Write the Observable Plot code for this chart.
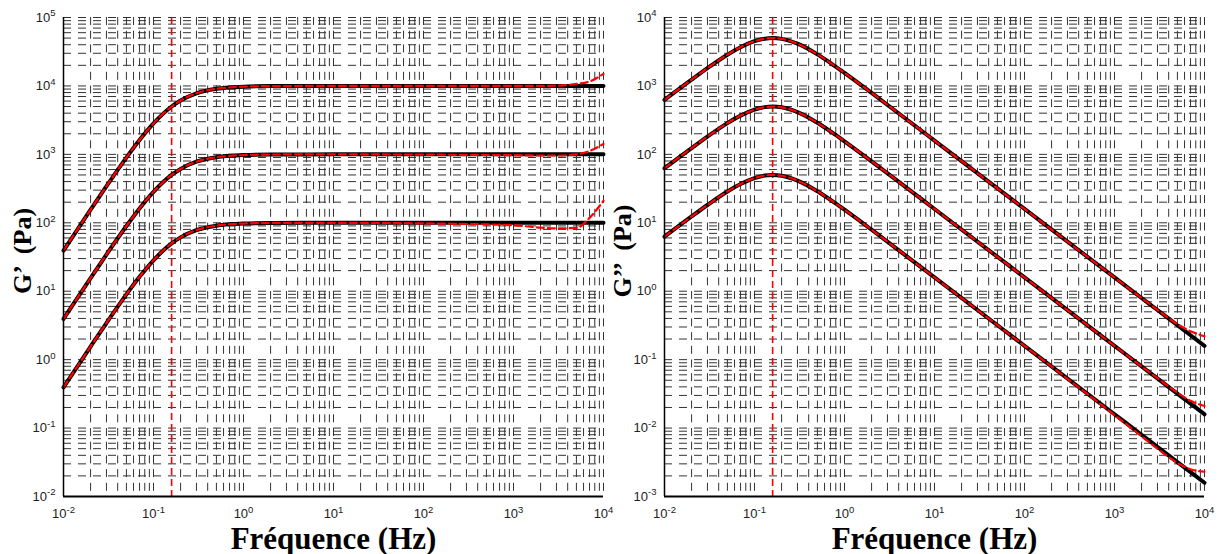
<!DOCTYPE html>
<html><head><meta charset="utf-8">
<script src="https://cdn.jsdelivr.net/npm/d3@7"></script>
<script src="https://cdn.jsdelivr.net/npm/@observablehq/plot@0.6"></script>
<style>
body{margin:0;background:#fff}
#wrap{display:flex;width:1220px;height:554px;background:#fff}
</style>
</head><body><div id="wrap"></div>
<script>
// Frequencies (Hz)
const freq = [0.01, 0.02, 0.03, 0.05, 0.07, 0.1, 0.13, 0.159, 0.2, 0.3, 0.5, 0.7, 1, 2, 5, 10, 100, 1000, 2000, 3000, 5000, 7000, 10000];
// G' (Pa) - reference (black)
const gp1 = [39.3, 155.5, 343, 898, 1621, 2830, 4002, 5000, 6123, 7804, 9080, 9509, 9753, 9937, 9990, 10000, 10000, 10000, 10000, 10000, 10000, 10000, 10000];
const gp2 = [3.93, 15.55, 34.3, 89.8, 162.1, 283, 400.2, 500, 612.3, 780.4, 908, 950.9, 975.3, 993.7, 999, 1000, 1000, 1000, 1000, 1000, 1000, 1000, 1000];
const gp3 = [0.393, 1.555, 3.43, 8.98, 16.21, 28.3, 40.02, 50, 61.23, 78.04, 90.8, 95.09, 97.53, 99.37, 99.9, 100, 100, 100, 100, 100, 100, 100, 100];
// G' (Pa) - computed (red dashed)
const gp1r = [39.3, 155.5, 343, 898, 1621, 2830, 4002, 5000, 6123, 7804, 9080, 9509, 9753, 9937, 9990, 10000, 10000, 9990, 10010, 10100, 10700, 11600, 15000];
const gp2r = [3.93, 15.55, 34.3, 89.8, 162.1, 283, 400.2, 500, 612.3, 780.4, 908, 950.9, 975.3, 993.7, 999, 1000, 990, 972, 962, 962, 1000, 1120, 1420];
const gp3r = [0.393, 1.555, 3.43, 8.98, 16.21, 28.3, 40.02, 50, 61.23, 78.04, 90.8, 95.09, 97.53, 99.37, 99.9, 100, 98, 92, 85, 83, 84, 118, 210];
// G'' (Pa) - reference (black)
const gpp1 = [626, 1237, 1820, 2860, 3685, 4505, 4899, 5000, 4872, 4140, 2890, 2161, 1552, 792, 318, 159.1, 15.92, 1.592, 0.796, 0.531, 0.318, 0.227, 0.159];
const gpp2 = [62.6, 123.7, 182, 286, 368.5, 450.5, 489.9, 500, 487.2, 414, 289, 216.1, 155.2, 79.2, 31.8, 15.91, 1.592, 0.1592, 0.0796, 0.0531, 0.0318, 0.0227, 0.0159];
const gpp3 = [6.26, 12.37, 18.2, 28.6, 36.85, 45.05, 48.99, 50, 48.72, 41.4, 28.9, 21.61, 15.52, 7.92, 3.18, 1.591, 0.1592, 0.01592, 0.00796, 0.00531, 0.00318, 0.00227, 0.00159];
// G'' (Pa) - computed (red dashed)
const gpp1r = [626, 1237, 1820, 2860, 3685, 4505, 4899, 5000, 4872, 4140, 2890, 2161, 1552, 792, 318, 159.1, 15.92, 1.592, 0.796, 0.535, 0.33, 0.26, 0.22];
const gpp2r = [62.6, 123.7, 182, 286, 368.5, 450.5, 489.9, 500, 487.2, 414, 289, 216.1, 155.2, 79.2, 31.8, 15.91, 1.592, 0.1592, 0.0796, 0.0535, 0.033, 0.025, 0.021];
const gpp3r = [6.26, 12.37, 18.2, 28.6, 36.85, 45.05, 48.99, 50, 48.72, 41.4, 28.9, 21.61, 15.52, 7.92, 3.18, 1.591, 0.1592, 0.0155, 0.0076, 0.0050, 0.0031, 0.0025, 0.0023];
// Crossover frequency (Hz)
const crossover = [0.159];
// Axis ticks (decades)
const xDecades = [-2, -1, 0, 1, 2, 3, 4];
const yDecadesL = [-2, -1, 0, 1, 2, 3, 4, 5];
const yDecadesR = [-3, -2, -1, 0, 1, 2, 3, 4];
const minorMult = [1, 2, 3, 4, 5, 6, 7, 8, 9];

function minors(decs) {
  const out = [];
  for (let i = 0; i < decs.length; i++) {
    const d = decs[i];
    if (i === decs.length - 1) { out.push(Math.pow(10, d)); break; }
    for (const m of minorMult) out.push(m * Math.pow(10, d));
  }
  return out;
}
const toRows = (ys) => freq.map((f, i) => ({f, v: ys[i]}));

function panel({yDecades, black, red, ylabel, marginLeft, marginRight, ylabelDx}) {
  const xT = xDecades.map(d => Math.pow(10, d));
  const yT = yDecades.map(d => Math.pow(10, d));
  const ymin = yT[0], ymax = yT[yT.length - 1];
  const marks = [
    Plot.ruleX(minors(xDecades), {stroke: "#333", strokeWidth: 1, strokeDasharray: "8,5.7", y1: ymax, y2: ymin}),
    Plot.ruleY(minors(yDecades), {stroke: "#333", strokeWidth: 1, strokeDasharray: "8,7"}),
    Plot.ruleX(crossover, {stroke: "#ff0000", strokeWidth: 1.6, strokeDasharray: "7,4", y1: ymax, y2: ymin}),
  ];
  for (const s of black) marks.push(Plot.line(toRows(s), {x: "f", y: "v", stroke: "black", strokeWidth: 4, curve: "monotone-x"}));
  for (const s of red) marks.push(Plot.line(toRows(s), {x: "f", y: "v", stroke: "#ff0000", strokeWidth: 2.2, strokeDasharray: "7,4", curve: "monotone-x"}));
  marks.push(
    Plot.ruleX([xT[0]], {stroke: "black", strokeWidth: 1.5}),
    Plot.ruleY([ymin], {stroke: "black", strokeWidth: 2}),
    Plot.axisX(xT, {tickSize: 0, tickPadding: 12, tickFormat: d => "10^" + Math.round(Math.log10(d)), label: null, fontSize: 13, fill: "#222"}),
    Plot.axisY(yT, {tickSize: 0, tickPadding: 8, tickFormat: d => "10^" + Math.round(Math.log10(d)), label: null, fontSize: 13, fill: "#222"}),
    Plot.text(["Fréquence (Hz)"], {frameAnchor: "bottom", lineAnchor: "middle", textAnchor: "middle", dy: 43, fontSize: 31, fontWeight: "bold", fontFamily: "Liberation Serif, Times New Roman, serif", fill: "black"}),
    Plot.text([ylabel], {frameAnchor: "left", textAnchor: "middle", lineAnchor: "middle", dx: ylabelDx, dy: -6, rotate: -90, fontSize: 26, fontWeight: "bold", fontFamily: "Liberation Serif, Times New Roman, serif", fill: "black"})
  );
  const svg = Plot.plot({
    width: 610, height: 554,
    marginLeft, marginRight, marginTop: 17, marginBottom: 58,
    style: {fontFamily: "Liberation Sans, Arial, sans-serif", background: "transparent", overflow: "visible"},
    x: {type: "log", domain: [xT[0], xT[xT.length - 1]], axis: null},
    y: {type: "log", domain: [ymin, ymax], axis: null},
    marks
  });
  // render exponents as superscripts
  svg.querySelectorAll("text").forEach(t => {
    const m = /^10\^(-?\d+)$/.exec(t.textContent);
    if (!m) return;
    t.textContent = "10";
    const sup = document.createElementNS("http://www.w3.org/2000/svg", "tspan");
    sup.setAttribute("dy", "-0.55em");
    sup.setAttribute("font-size", "9.5");
    sup.textContent = m[1];
    t.appendChild(sup);
  });
  return svg;
}

const wrap = document.getElementById("wrap");
wrap.appendChild(panel({yDecades: yDecadesL, black: [gp1, gp2, gp3], red: [gp1r, gp2r, gp3r], ylabel: "G’  (Pa)", marginLeft: 63, marginRight: 7, ylabelDx: -41}));
wrap.appendChild(panel({yDecades: yDecadesR, black: [gpp1, gpp2, gpp3], red: [gpp1r, gpp2r, gpp3r], ylabel: "G’’  (Pa)", marginLeft: 54, marginRight: 16, ylabelDx: -42}));
</script></body></html>
